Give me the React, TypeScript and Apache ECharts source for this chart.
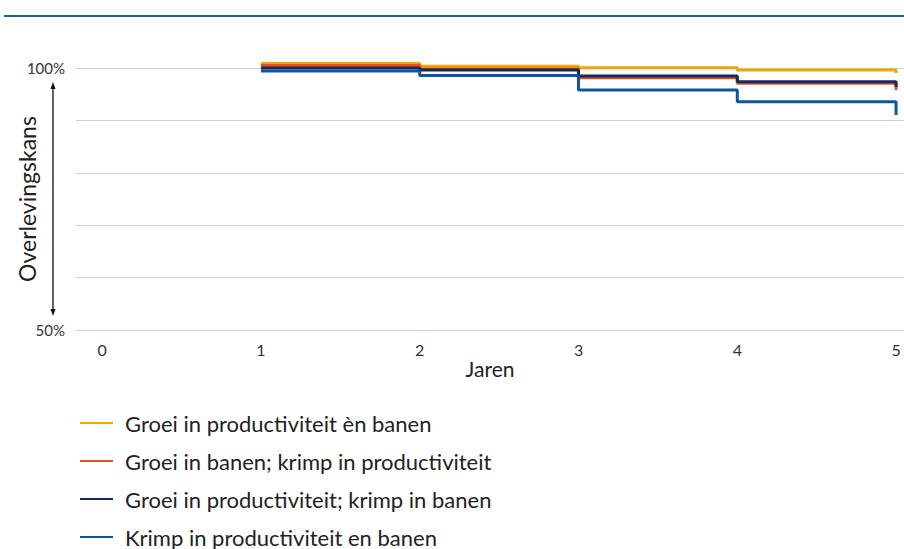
import React, { useEffect, useRef } from "react";
import * as echarts from "echarts";

const years = [1, 2, 3, 4, 5];
const seriesNames = [
  "Groei in productiviteit èn banen",
  "Groei in banen; krimp in productiviteit",
  "Groei in productiviteit; krimp in banen",
  "Krimp in productiviteit en banen",
];
const groeiBeide = [100.86, 100.32, 100.06, 99.62, 99.05];
const groeiBanen = [100.48, 99.81, 98.15, 97.08, 95.8];
const groeiProductiviteit = [100.0, 99.62, 98.47, 97.39, 96.37];
const krimpBeide = [99.43, 98.57, 95.8, 93.57, 91.03];
const xTicks = [0, 1, 2, 3, 4, 5];
const yTicks = [50, 100];
const yTitle = "Overlevingskans";
const colors = ["#F5A300", "#E9501E", "#17285C", "#0C55A3"];

const FONT = "Lato";

export default function App() {
  const ref = useRef<HTMLDivElement>(null);
  useEffect(() => {
    if (!ref.current) return;
    const chart = echarts.init(ref.current, null, { renderer: "svg" });
    const all = [groeiBeide, groeiBanen, groeiProductiviteit, krimpBeide];
    chart.setOption({
      animation: false,
      textStyle: { fontFamily: FONT },
      grid: { left: 76, right: 0, top: 68, height: 262, containLabel: false, outerBoundsMode: "none" },
      xAxis: {
        type: "value",
        min: -0.165,
        max: 5.05,
        name: "Jaren",
        nameLocation: "middle",
        nameGap: 28,
        nameTextStyle: { fontSize: 21, color: "#222", fontFamily: FONT },
        axisLine: { show: false },
        axisTick: { show: false },
        splitLine: { show: false },
        axisLabel: {
          customValues: xTicks,
          fontSize: 16,
          color: "#333",
          margin: 11,
          fontFamily: FONT,
        },
      },
      yAxis: {
        type: "value",
        min: 50,
        max: 100,
        interval: 10,
        axisLine: { show: false },
        axisTick: { show: false },
        splitLine: { lineStyle: { color: "#d0d0d0", width: 1 } },
        axisLabel: {
          fontSize: 15,
          color: "#333",
          margin: 11,
          fontFamily: FONT,
          formatter: (v: number) => (yTicks.includes(v) ? v + "%" : ""),
        },
      },
      legend: {
        orient: "vertical",
        left: 80,
        top: 412,
        height: 140,
        padding: 0,
        itemWidth: 33,
        itemHeight: 14,
        itemGap: 16,
        data: seriesNames.map((n) => ({
          name: n,
          icon: "path://M0,6 L33,6 L33,8 L0,8 Z",
        })),
        textStyle: { fontSize: 22, color: "#222", fontFamily: FONT, padding: [0, 0, 0, 7] },
      },
      series: all.map((vals, i) => ({
        name: seriesNames[i],
        type: "line",
        step: "end",
        clip: false,
        symbol: "none",
        color: colors[i],
        lineStyle: { width: 3, color: colors[i] },
        data: years.map((y, j) => [y, vals[j]]),
      })),
      graphic: [
        { type: "line", shape: { x1: 4, y1: 16, x2: 904, y2: 16 }, style: { stroke: "#1462AE", lineWidth: 2 } },
        {
          type: "text",
          x: 27,
          y: 199,
          rotation: Math.PI / 2,
          style: {
            text: yTitle,
            fontSize: 23,
            fontFamily: FONT,
            fill: "#222",
            align: "center",
            verticalAlign: "middle",
          },
        },
        { type: "line", shape: { x1: 53, y1: 86, x2: 53, y2: 312 }, style: { stroke: "#111", lineWidth: 1.3 } },
        { type: "polygon", shape: { points: [[53, 82], [50.5, 89], [55.5, 89]] }, style: { fill: "#111" } },
        { type: "polygon", shape: { points: [[53, 316], [50.5, 309], [55.5, 309]] }, style: { fill: "#111" } },
      ],
    });
    return () => chart.dispose();
  }, []);
  return (
    <div
      ref={ref}
      style={{ position: "fixed", left: 0, top: 0, width: 904, height: 549, background: "#fff" }}
    />
  );
}
